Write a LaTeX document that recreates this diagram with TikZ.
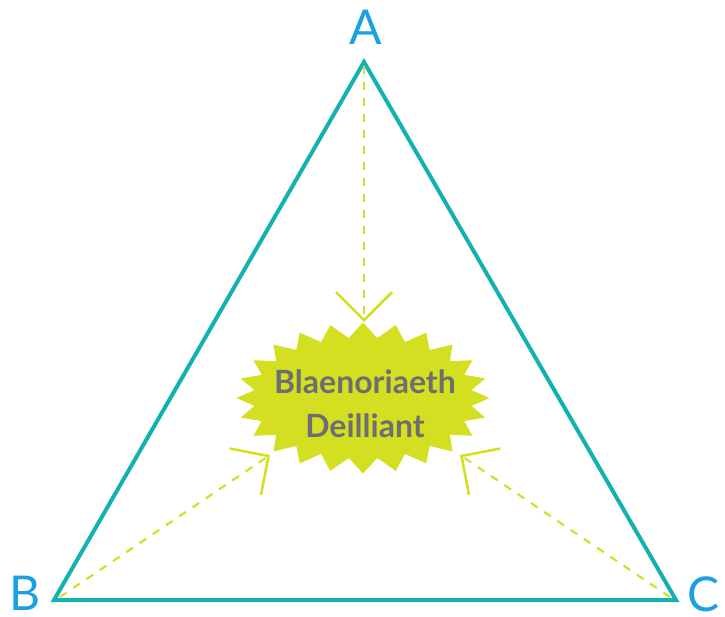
\documentclass[tikz,border=0pt]{standalone}
\usepackage{fontspec}
\setmainfont{Lato}
\usetikzlibrary{arrows.meta}
\definecolor{teal1}{RGB}{20,177,178}
\definecolor{blue1}{RGB}{27,161,226}
\definecolor{yg}{RGB}{212,223,34}
\definecolor{gray1}{RGB}{109,110,113}
\tikzset{
  corner/.style={text=blue1,font=\fontsize{36}{36}\selectfont,inner sep=0pt,anchor=base},
  tri/.style={draw=teal1,line width=3pt,line join=miter},
  flow/.style={draw=yg,line width=1.6pt,dash pattern=on 6pt off 6pt,
    -{Straight Barb[length=21pt,width=42pt,line width=1.9pt,line join=miter,line cap=butt]}},
  bursttext/.style={text=gray1,font=\bfseries\fontsize{24}{24}\selectfont,inner sep=0pt,anchor=base}
}
\begin{document}
\begin{tikzpicture}[x=0.75pt,y=-0.75pt]
\useasboundingbox (0,0) rectangle (725,617);
% triangle corners
\coordinate (pa) at (364,62);
\coordinate (pb) at (54,600);
\coordinate (pc) at (676,600);
\draw[tri] (pa) -- (pb) -- (pc) -- cycle;
% labels
\node[corner] (la) at (365.5,45) {A};
\node[corner] (lb) at (25,610) {B};
\node[corner] (lc) at (704,611) {C};
% starburst
\fill[yg] plot[domain=0:352.5,samples=48,variable=\t]
  ({363+(118+8.5*cos(24*\t))*cos(\t)},{398+(68+7.5*cos(24*\t))*sin(\t)}) -- cycle;
\node[bursttext] (t1) at (365,393) {Blaenoriaeth};
\node[bursttext] (t2) at (365,437) {Deilliant};
% dashed arrows
\coordinate (sa) at (364,66);
\coordinate (ea) at (364,322);
\coordinate (sb) at (60,597);
\coordinate (eb) at (270,455);
\coordinate (sc) at (670,597);
\coordinate (ec) at (460,455);
\draw[flow] (sa) -- (ea);
\draw[flow] (sb) -- (eb);
\draw[flow] (sc) -- (ec);
\end{tikzpicture}
\end{document}
